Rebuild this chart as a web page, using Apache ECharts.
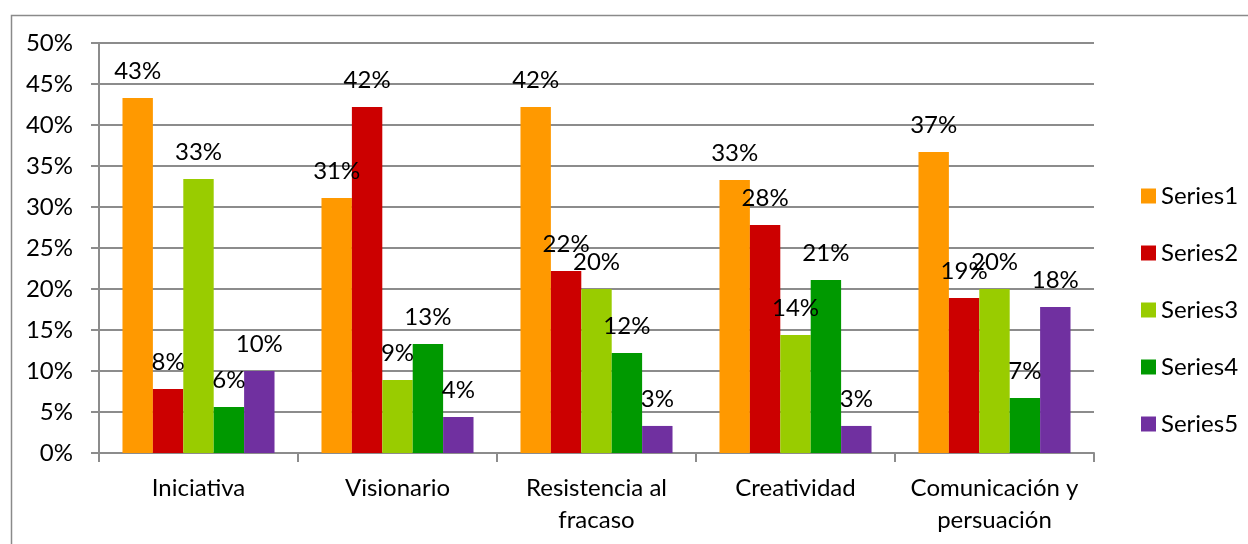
<!DOCTYPE html>
<html>
<head>
<meta charset="utf-8">
<script src="https://cdn.jsdelivr.net/npm/echarts@6/dist/echarts.min.js"></script>
<style>
html,body{margin:0;padding:0;background:#fff;}
#chart{width:1248px;height:544px;}
</style>
</head>
<body>
<div id="chart"></div>
<script>
const categories = ['Iniciativa', 'Visionario', 'Resistencia al\nfracaso', 'Creatividad', 'Comunicación y\npersuación'];
const series1 = [43.3, 31.1, 42.2, 33.3, 36.7];
const series2 = [7.8, 42.2, 22.2, 27.8, 18.9];
const series3 = [33.4, 8.9, 20.0, 14.4, 20.0];
const series4 = [5.6, 13.3, 12.2, 21.1, 6.7];
const series5 = [10.0, 4.4, 3.3, 3.3, 17.8];
const seriesNames = ['Series1', 'Series2', 'Series3', 'Series4', 'Series5'];
const colors = ['#FF9900', '#CC0000', '#99CC00', '#009900', '#7030A0'];
const yTicks = [0, 5, 10, 15, 20, 25, 30, 35, 40, 45, 50];

const FONT = 'Lato';
const FS = 24;
const gridColor = '#8c8c8c';

const allData = [series1, series2, series3, series4, series5];

const chart = echarts.init(document.getElementById('chart'));
chart.setOption({
  animation: false,
  textStyle: { fontFamily: FONT },
  graphic: [{
    type: 'rect',
    shape: { x: 11.5, y: 15.5, width: 1260, height: 600 },
    style: { fill: 'none', stroke: '#8a8a8a', lineWidth: 1.5 },
    silent: true
  }],
  grid: { left: 99, right: 154, top: 43, bottom: 91, containLabel: false },
  legend: {
    orient: 'vertical',
    left: 1136,
    top: 179,
    itemWidth: 15,
    itemHeight: 15,
    itemGap: 33,
    icon: 'rect',
    data: seriesNames,
    textStyle: { fontFamily: FONT, fontSize: FS, color: '#000', lineHeight: 15 }
  },
  xAxis: {
    type: 'category',
    data: categories,
    boundaryGap: true,
    axisLine: { show: true, lineStyle: { color: gridColor, width: 2 } },
    axisTick: { show: true, length: 9, inside: false, alignWithLabel: false, lineStyle: { color: gridColor, width: 2 } },
    axisLabel: { fontFamily: FONT, fontSize: FS, color: '#000', lineHeight: 32, margin: 19, interval: 0 },
    splitLine: { show: false }
  },
  yAxis: {
    type: 'value',
    min: yTicks[0],
    max: yTicks[yTicks.length - 1],
    interval: yTicks[1] - yTicks[0],
    axisLine: { show: true, lineStyle: { color: gridColor, width: 2 } },
    axisTick: { show: true, length: 8, inside: false, lineStyle: { color: gridColor, width: 2 } },
    axisLabel: { fontFamily: FONT, fontSize: FS, color: '#000', margin: 26, formatter: '{value}%' },
    splitLine: { show: true, lineStyle: { color: gridColor, width: 2 } }
  },
  series: allData.map((d, i) => ({
    name: seriesNames[i],
    type: 'bar',
    data: d,
    barGap: '0%',
    barCategoryGap: '23.6%',
    itemStyle: { color: colors[i] },
    label: {
      show: true,
      position: 'top',
      distance: 15,
      fontFamily: FONT,
      fontSize: FS,
      color: '#000',
      formatter: p => Math.round(p.value) + '%'
    },
    labelLayout: { hideOverlap: false }
  }))
});
</script>
</body>
</html>
